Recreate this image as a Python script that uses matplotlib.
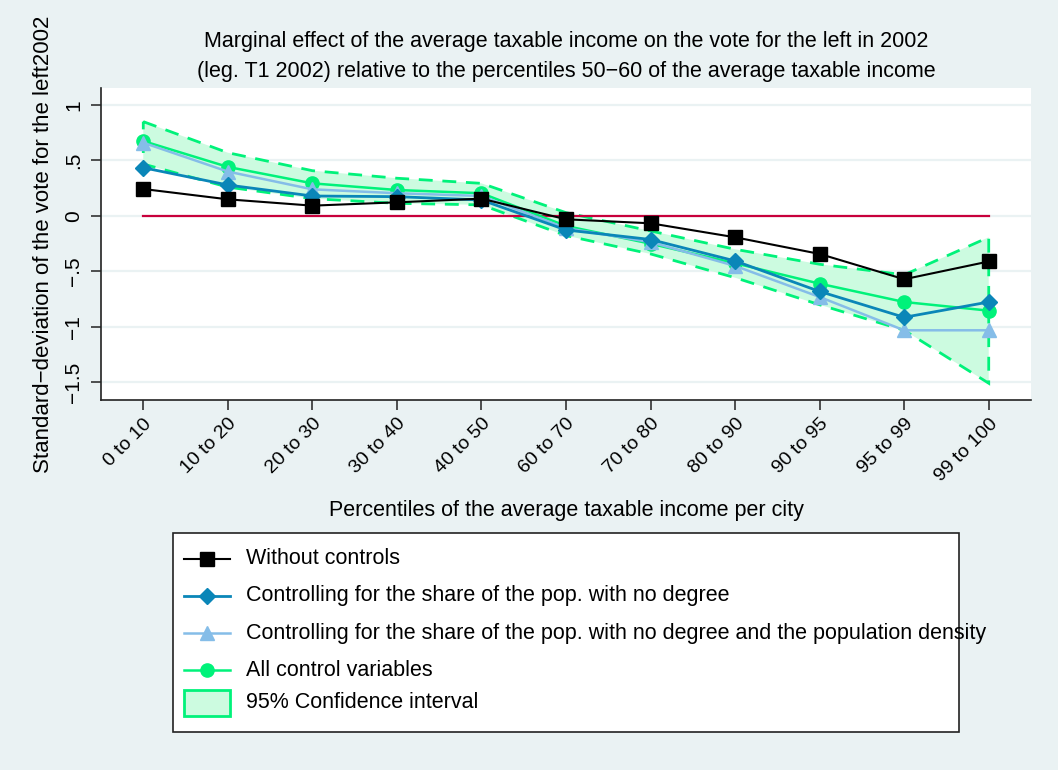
import matplotlib
matplotlib.use("Agg")
import matplotlib.pyplot as plt
import numpy as np
from matplotlib.lines import Line2D
from matplotlib.patches import Rectangle

plt.rcParams['font.family'] = ['Liberation Sans', 'DejaVu Sans']

# Income percentile groups (reference group 50-60 omitted)
categories = ["0 to 10", "10 to 20", "20 to 30", "30 to 40", "40 to 50",
              "60 to 70", "70 to 80", "80 to 90", "90 to 95", "95 to 99", "99 to 100"]

# Estimated marginal effects for each specification
no_controls = [0.243, 0.150, 0.093, 0.123, 0.156, -0.030, -0.066, -0.192, -0.342, -0.570, -0.410]
ctrl_degree = [0.435, 0.279, 0.180, 0.174, 0.144, -0.126, -0.212, -0.405, -0.680, -0.913, -0.775]
ctrl_degree_density = [0.660, 0.400, 0.240, 0.205, 0.180, -0.110, -0.235, -0.450, -0.730, -1.030, -1.030]
all_controls = [0.675, 0.442, 0.294, 0.234, 0.205, -0.090, -0.250, -0.426, -0.610, -0.775, -0.853]

# 95% confidence interval of the full specification
ci_upper = [0.850, 0.570, 0.408, 0.340, 0.294, 0.030, -0.135, -0.300, -0.435, -0.530, -0.192]
ci_lower = [0.468, 0.260, 0.156, 0.114, 0.100, -0.177, -0.342, -0.556, -0.800, -1.030, -1.507]

y_ticks = [-1.5, -1, -0.5, 0, 0.5, 1]
y_tick_labels = ["\u22121.5", "\u22121", "\u2212.5", "0", ".5", "1"]

BG = "#eaf2f3"
BLACK = "#000000"
BLUE = "#0a86b8"
LIGHTBLUE = "#85bde8"
GREEN = "#00f27a"
FILL = "#ccfbe0"
RED = "#c8003c"

FS = 15.5

W, H = 1058, 770
fig = plt.figure(figsize=(W / 100, H / 100), dpi=100, facecolor=BG)

left, right, top, bottom = 101, 1031, 88, 400
ax = fig.add_axes([left / W, 1 - bottom / H, (right - left) / W, (bottom - top) / H])
ax.set_facecolor("white")

x = np.arange(len(categories))

# horizontal grid
for yt in y_ticks:
    ax.axhline(yt, color=BG, lw=1.6, zorder=0)

# confidence band as a polygon with dashed outline
poly_x = np.concatenate([x, x[::-1]])
poly_y = np.concatenate([ci_upper, ci_lower[::-1]])
ax.fill(poly_x, poly_y, facecolor=FILL, edgecolor="none", zorder=1)
ax.fill(poly_x, poly_y, facecolor="none", edgecolor=GREEN, lw=2.0,
        linestyle=(0, (5, 3.5)), zorder=2)

# zero reference line
ax.plot([x[0], x[-1]], [0, 0], color=RED, lw=1.6, zorder=3)

ax.plot(x, all_controls, color=GREEN, lw=1.8, marker="o", ms=9.5, zorder=4)
ax.plot(x, ctrl_degree_density, color=LIGHTBLUE, lw=1.8, marker="^", ms=10, zorder=5)
ax.plot(x, ctrl_degree, color=BLUE, lw=2.0, marker="D", ms=8.5, zorder=6)
ax.plot(x, no_controls, color=BLACK, lw=1.5, marker="s", ms=9.5, zorder=7)

ax.set_xlim(-0.5, 10.5)
ax.set_ylim(-1.658, 1.153)

for side in ("top", "right"):
    ax.spines[side].set_visible(False)
for side in ("left", "bottom"):
    ax.spines[side].set_color("#222222")
    ax.spines[side].set_linewidth(1.2)

ax.set_yticks(y_ticks)
ax.set_yticklabels(y_tick_labels, rotation=90, va="center", fontsize=15)
ax.tick_params(axis="y", length=7, width=1.1, color="#222222", pad=6)

ax.set_xticks(x)
ax.set_xticklabels(categories, rotation=45, ha="right", rotation_mode="anchor", fontsize=14)
ax.tick_params(axis="x", length=7, width=1.1, color="#222222", pad=4)

ax.set_xlabel("Percentiles of the average taxable income per city", fontsize=FS, labelpad=11)
ax.set_ylabel("Standard\u2212deviation of the vote for the left2002", fontsize=16, labelpad=7)

fig.text((left + right) / 2 / W, 1 - 42 / H,
         "Marginal effect of the average taxable income on the vote for the left in 2002",
         ha="center", va="center", fontsize=FS)
fig.text((left + right) / 2 / W, 1 - 71 / H,
         "(leg. T1 2002) relative to the percentiles 50\u221260 of the average taxable income",
         ha="center", va="center", fontsize=FS)

# legend drawn in pixel coordinates on an overlay
lax = fig.add_axes([0, 0, 1, 1], facecolor="none")
lax.set_xlim(0, W)
lax.set_ylim(H, 0)
lax.axis("off")
lax.add_patch(Rectangle((173, 533), 786, 199, facecolor="white", edgecolor="#222222", lw=1.2))

entries = [
    ("Without controls", BLACK, "s", 9.5, 1.5),
    ("Controlling for the share of the pop. with no degree", BLUE, "D", 8.5, 2.0),
    ("Controlling for the share of the pop. with no degree and the population density", LIGHTBLUE, "^", 10, 1.8),
    ("All control variables", GREEN, "o", 9.5, 1.8),
]
row_y = [559, 596, 633, 670, 703]
for (label, col, mk, ms, lw), yy in zip(entries, row_y):
    lax.add_line(Line2D([184, 230], [yy, yy], color=col, lw=lw))
    lax.add_line(Line2D([207], [yy], color=col, marker=mk, ms=ms, lw=0))
    lax.text(246, yy, label, ha="left", va="center", fontsize=FS)
lax.add_patch(Rectangle((184, 690), 46, 26, facecolor=FILL, edgecolor=GREEN, lw=2))
lax.text(246, row_y[4], "95% Confidence interval", ha="left", va="center", fontsize=FS)

fig.savefig("out.png", dpi=100, facecolor=BG)
